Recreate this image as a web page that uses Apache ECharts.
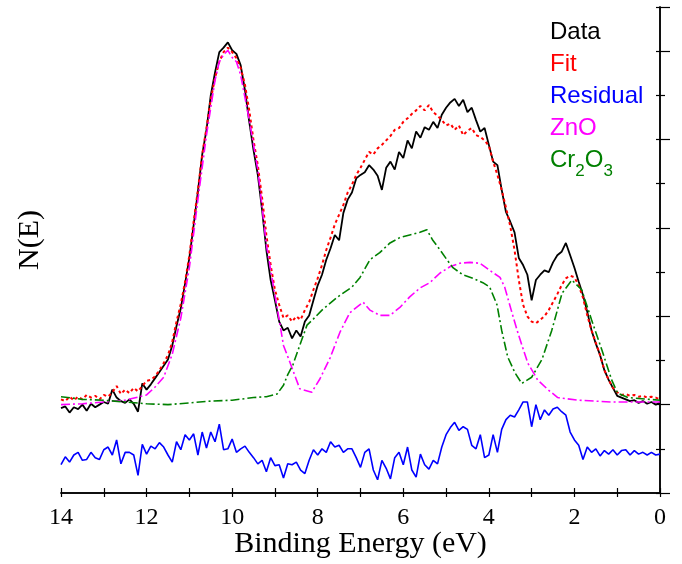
<!DOCTYPE html>
<html>
<head>
<meta charset="utf-8">
<script src="https://cdn.jsdelivr.net/npm/echarts@6/dist/echarts.min.js"></script>
<style>
html,body{margin:0;padding:0;background:#fff;}
#chart{width:682px;height:564px;}
</style>
</head>
<body>
<div id="chart"></div>
<script>
// Binding energy grid (eV) for Data, Fit and Residual
var energy = [14.0,13.9,13.8,13.7,13.6,13.5,13.4,13.3,13.2,13.1,
13.0,12.9,12.8,12.7,12.6,12.5,12.4,12.3,12.2,12.1,
12.0,11.9,11.8,11.7,11.6,11.5,11.4,11.3,11.2,11.1,
11.0,10.9,10.8,10.7,10.6,10.5,10.4,10.3,10.2,10.1,
10.0,9.9,9.8,9.7,9.6,9.5,9.4,9.3,9.2,9.1,
9.0,8.9,8.8,8.7,8.6,8.5,8.4,8.3,8.2,8.1,
8.0,7.9,7.8,7.7,7.6,7.5,7.4,7.3,7.2,7.1,
7.0,6.9,6.8,6.7,6.6,6.5,6.4,6.3,6.2,6.1,
6.0,5.9,5.8,5.7,5.6,5.5,5.4,5.3,5.2,5.1,
5.0,4.9,4.8,4.7,4.6,4.5,4.4,4.3,4.2,4.1,
4.0,3.9,3.8,3.7,3.6,3.5,3.4,3.3,3.2,3.1,
3.0,2.9,2.8,2.7,2.6,2.5,2.4,2.3,2.2,2.1,
2.0,1.9,1.8,1.7,1.6,1.5,1.4,1.3,1.2,1.1,
1.0,0.9,0.8,0.7,0.6,0.5,0.4,0.3,0.2,0.1,
0.0];

var dataVals = [96,98,91,97,95,100,93,101,97,100,
103,101,117,108,104,102,106,101,92,124,
117,123,130,137,144,151,167,189,209,237,
266,303,341,383,411,450,476,499,504,510,
501,497,484,456,420,388,360,320,275,241,
218,194,184,187,175,184,177,194,201,218,
235,247,264,277,292,286,317,332,340,356,
360,363,371,366,359,343,368,375,366,386,
379,399,390,409,402,414,411,420,413,428,
436,442,446,438,445,431,436,422,409,413,
394,375,371,343,318,307,295,266,258,247,
218,241,247,252,250,261,269,273,283,269,
255,239,224,205,184,169,156,139,128,119,
110,108,106,104,105,102,104,101,103,100,
102];

var fitVals = [106,104,109,105,109,106,111,108,110,106,
111,109,114,121,112,117,113,119,115,121,
127,128,132,139,147,156,171,194,214,239,
269,307,343,383,413,445,470,488,499,504,
499,492,481,462,433,399,371,334,292,258,
230,213,198,201,194,200,196,207,216,230,
243,258,275,289,304,315,326,340,349,360,
368,377,386,383,390,394,399,404,411,413,
420,424,429,433,438,433,439,431,427,422,
416,418,411,416,405,410,413,405,403,399,
393,375,360,343,323,302,275,241,213,200,
194,192,196,200,207,216,225,235,243,246,
244,235,221,201,184,170,156,139,128,119,
114,111,112,110,111,109,110,108,109,108,
106];

var residVals = [32,41,35,43,46,37,38,46,40,38,
49,52,43,60,33,46,46,43,20,55,
44,53,50,57,52,43,35,58,49,66,
60,67,43,69,51,69,58,78,49,50,
61,46,50,53,46,40,33,37,24,40,
31,32,17,33,32,35,26,22,37,49,
43,50,46,58,52,54,46,50,50,40,
29,46,50,26,15,37,28,16,40,46,
32,52,26,18,44,32,27,37,33,52,
66,74,80,71,75,72,54,50,66,40,
43,66,46,72,83,88,86,94,103,103,
75,100,83,94,88,95,97,92,88,69,
60,54,38,52,46,50,42,48,44,49,
43,48,49,43,48,44,46,43,46,43,
44];

// ZnO component
var znoEnergy = [14.0,13.5,13.0,12.5,12.0,11.8,11.6,11.4,11.2,11.0,
10.8,10.6,10.4,10.3,10.2,10.1,10.0,9.9,9.8,9.6,
9.4,9.2,9.0,8.9,8.8,8.65,8.42,8.14,7.95,7.71,
7.48,7.25,6.94,6.78,6.55,6.31,6.08,5.85,5.61,5.38,
5.14,4.91,4.68,4.44,4.21,3.98,3.74,3.63,3.46,3.32,
3.09,2.86,2.62,2.39,1.92,1.13,0.0];
var znoVals = [100,101,103,105,111,120,131,157,198,255,
332,405,467,488,496,501,493,488,473,422,
366,281,224,196,167,148,118,114,129,153,
182,204,216,207,201,201,210,222,232,238,
249,256,260,261,260,252,244,233,204,181,
147,128,117,108,105,103,103];

// Cr2O3 component
var crEnergy = [14.0,13.5,13.0,12.5,12.0,11.5,11.0,10.5,10.0,9.5,
9.2,8.95,8.8,8.7,8.58,8.42,8.25,8.1,7.9,7.53,
7.2,7.01,6.78,6.55,6.31,6.08,5.85,5.61,5.45,5.31,
5.14,4.98,4.84,4.61,4.37,4.14,3.98,3.81,3.7,3.56,
3.39,3.23,3.0,2.76,2.53,2.29,2.06,1.83,1.6,1.36,
1.13,0.99,0.75,0.0];
var crVals = [109,106,105,103,101,100,102,104,105,108,
109,112,122,134,145,167,190,197,207,222,
233,244,264,272,283,289,292,295,298,286,
275,264,255,247,243,238,233,213,184,154,
136,124,131,151,184,226,241,230,196,162,
128,113,108,105];

var xTicks = [14,12,10,8,6,4,2,0];

function pairs(xs, ys){ return xs.map(function(x,i){ return [x, ys[i]]; }); }

var serif = 'Liberation Serif, Times New Roman, serif';
var sans = 'Liberation Sans, Arial, sans-serif';

var chart = echarts.init(document.getElementById('chart'), null, {renderer:'canvas'});
var dashDot = [9,3,2,3];
var option = {
  animation:false,
  backgroundColor:'#fff',
  grid:{left:61, right:22, top:7, bottom:71},
  legend:{
    orient:'vertical', left:545, top:20, padding:0, itemGap:8,
    itemWidth:0, itemHeight:0, icon:'rect', selectedMode:false,
    formatter:function(name){
      if(name==='Cr2O3') return '{b|Cr}{s|2}{b|O}{s|3}';
      return '{b|'+name+'}';
    },
    textStyle:{fontFamily:sans, fontSize:24,
      rich:{
        b:{fontFamily:sans, fontSize:24, lineHeight:28, verticalAlign:'top'},
        s:{fontFamily:sans, fontSize:17, lineHeight:32, verticalAlign:'bottom'}
      }},
    data:[
      {name:'Data', textStyle:{color:'#000000'}},
      {name:'Fit', textStyle:{color:'#ff0000'}},
      {name:'Residual', textStyle:{color:'#0000ff'}},
      {name:'ZnO', textStyle:{color:'#ff00ff'}},
      {name:'Cr2O3', textStyle:{color:'#008000'}}
    ]
  },
  xAxis:[
    {type:'value', position:'bottom', min:0, max:14, interval:2, inverse:true,
     axisLine:{lineStyle:{color:'#000', width:1.5}},
     axisTick:{inside:true, length:5, lineStyle:{color:'#000', width:1.2}},
     minorTick:{show:true, splitNumber:2, length:5, lineStyle:{color:'#000', width:1.2}},
     axisLabel:{color:'#000', fontFamily:serif, fontSize:24, margin:13,
       formatter:function(v){ return xTicks.indexOf(v)>=0 ? String(v) : ''; }},
     splitLine:{show:false}, minorSplitLine:{show:false},
     name:'Binding Energy (eV)', nameLocation:'middle', nameGap:36, nameMoveOverlap:false,
     nameTextStyle:{color:'#000', fontFamily:serif, fontSize:30}},
    {type:'value', position:'top', min:0, max:14, interval:1, inverse:true,
     axisLine:{lineStyle:{color:'#000', width:1.5}},
     axisTick:{inside:true, length:4, lineStyle:{color:'#000', width:1.2}},
     axisLabel:{show:false}, splitLine:{show:false}}
  ],
  yAxis:[
    {type:'value', position:'left', min:0, max:550, interval:100,
     axisLine:{show:true, lineStyle:{color:'#000', width:1.5}},
     axisTick:{show:true, inside:true, length:10, lineStyle:{color:'#000', width:1.2}},
     minorTick:{show:true, splitNumber:2, length:5, lineStyle:{color:'#000', width:1.2}},
     axisLabel:{show:false}, splitLine:{show:false}, minorSplitLine:{show:false},
     name:'N(E)', nameLocation:'middle', nameGap:16,
     nameTextStyle:{color:'#000', fontFamily:serif, fontSize:30, padding:[0,0,0,20]}},
    {type:'value', position:'right', min:0, max:550, interval:50,
     axisLine:{show:true, lineStyle:{color:'#000', width:1.5}},
     axisTick:{show:true, inside:true, length:4, lineStyle:{color:'#000', width:1.2}},
     axisLabel:{show:false}, splitLine:{show:false}}
  ],
  series:[
    {name:'Data', type:'line', xAxisIndex:0, yAxisIndex:0, showSymbol:false, symbol:'none',
     data:pairs(energy, dataVals), lineStyle:{color:'#000000', width:1.8}, itemStyle:{color:'#000000'}, z:2},
    {name:'Fit', type:'line', xAxisIndex:0, yAxisIndex:0, showSymbol:false, symbol:'none',
     data:pairs(energy, fitVals), lineStyle:{color:'#ff0000', width:2, type:[3,3]}, itemStyle:{color:'#ff0000'}, z:3},
    {name:'Residual', type:'line', xAxisIndex:0, yAxisIndex:0, showSymbol:false, symbol:'none',
     data:pairs(energy, residVals), lineStyle:{color:'#0000ff', width:1.6}, itemStyle:{color:'#0000ff'}, z:3},
    {name:'ZnO', type:'line', xAxisIndex:0, yAxisIndex:0, showSymbol:false, symbol:'none',
     data:pairs(znoEnergy, znoVals), lineStyle:{color:'#ff00ff', width:1.6, type:dashDot}, itemStyle:{color:'#ff00ff'}, z:4},
    {name:'Cr2O3', type:'line', xAxisIndex:0, yAxisIndex:0, showSymbol:false, symbol:'none',
     data:pairs(crEnergy, crVals), lineStyle:{color:'#008000', width:1.6, type:dashDot}, itemStyle:{color:'#008000'}, z:4}
  ]
};
chart.setOption(option);
</script>
</body>
</html>
